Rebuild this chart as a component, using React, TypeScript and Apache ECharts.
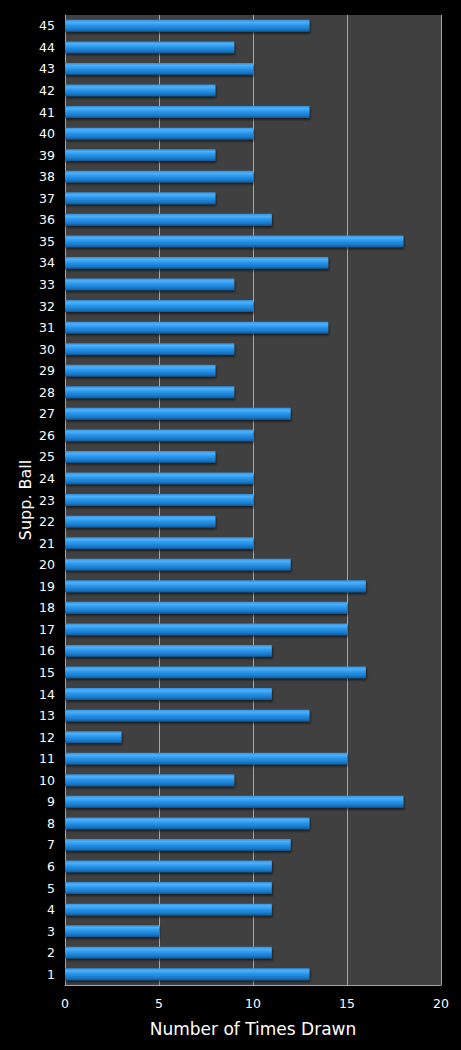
import React, { useEffect, useRef } from "react";
import * as echarts from "echarts";

const categories: string[] = Array.from({ length: 45 }, (_, i) => String(i + 1));
const timesDrawn: number[] = [
  13, 11, 5, 11, 11, 11, 12, 13, 18, 9,
  15, 3, 13, 11, 16, 11, 15, 15, 16, 12,
  10, 8, 10, 10, 8, 10, 12, 9, 8, 9,
  14, 10, 9, 14, 18, 11, 8, 10, 8, 10,
  13, 8, 10, 9, 13,
];
const xTicks = { min: 0, max: 20, interval: 5 };

export default function App() {
  const ref = useRef<HTMLDivElement>(null);
  useEffect(() => {
    document.body.style.margin = "0";
    document.body.style.background = "#000";
    const chart = echarts.init(ref.current!, null, { renderer: "svg" });
    const font = "DejaVu Sans";
    chart.setOption({
      animation: false,
      backgroundColor: "#000000",
      grid: {
        left: 65,
        right: 20,
        top: 15,
        bottom: 65,
        show: true,
        backgroundColor: "#404040",
        borderWidth: 0,
      },
      xAxis: {
        type: "value",
        min: xTicks.min,
        max: xTicks.max,
        interval: xTicks.interval,
        name: "Number of Times Drawn",
        nameLocation: "middle",
        nameGap: 35,
        nameTextStyle: { color: "#ffffff", fontSize: 17, fontFamily: font },
        axisLine: { show: true, lineStyle: { color: "#a6a6a6", width: 1 } },
        axisTick: { show: false },
        axisLabel: { color: "#ffffff", fontSize: 12.5, fontFamily: font, margin: 12 },
        splitLine: { show: true, lineStyle: { color: "#a6a6a6", width: 1 } },
      },
      yAxis: {
        type: "category",
        data: categories,
        name: "Supp. Ball",
        nameLocation: "middle",
        nameGap: 32,
        nameMoveOverlap: false,
        nameRotate: 90,
        nameTextStyle: { color: "#ffffff", fontSize: 16, fontFamily: font },
        axisLine: { show: true, lineStyle: { color: "#a6a6a6", width: 1 } },
        axisTick: { show: false },
        axisLabel: { color: "#ffffff", fontSize: 12.5, fontFamily: font, margin: 10 },
        splitLine: { show: false },
      },
      series: [
        {
          type: "bar",
          data: timesDrawn,
          barWidth: "55%",
          itemStyle: {
            color: new echarts.graphic.LinearGradient(0, 0, 0, 1, [
              { offset: 0, color: "#2f8fdc" },
              { offset: 0.2, color: "#4fb0f8" },
              { offset: 0.45, color: "#2a98ee" },
              { offset: 0.8, color: "#1a78c8" },
              { offset: 1, color: "#0f5a98" },
            ]),
            shadowColor: "rgba(0,0,0,0.55)",
            shadowOffsetY: 2,
            shadowOffsetX: 1,
            shadowBlur: 2,
          },
        },
      ],
    });
    return () => chart.dispose();
  }, []);
  return <div ref={ref} style={{ width: 461, height: 1050 }} />;
}
